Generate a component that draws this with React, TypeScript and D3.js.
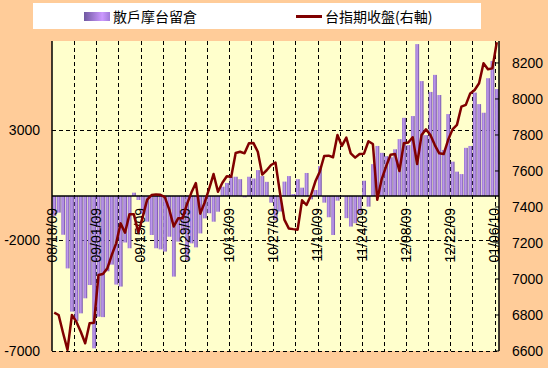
import React, { useRef, useEffect } from "react";
import * as d3 from "d3";

// trading days shown on the category axis
const dates = [
  "08/18/09", "08/19/09", "08/20/09", "08/21/09", "08/24/09", "08/25/09", "08/26/09", "08/27/09", "08/28/09", "08/31/09",
  "09/01/09", "09/02/09", "09/03/09", "09/04/09", "09/07/09", "09/08/09", "09/09/09", "09/10/09", "09/11/09", "09/14/09",
  "09/15/09", "09/16/09", "09/17/09", "09/18/09", "09/21/09", "09/22/09", "09/23/09", "09/24/09", "09/25/09", "09/28/09",
  "09/29/09", "09/30/09", "10/01/09", "10/02/09", "10/05/09", "10/06/09", "10/07/09", "10/08/09", "10/09/09", "10/12/09",
  "10/13/09", "10/14/09", "10/15/09", "10/16/09", "10/19/09", "10/20/09", "10/21/09", "10/22/09", "10/23/09", "10/26/09",
  "10/27/09", "10/28/09", "10/29/09", "10/30/09", "11/02/09", "11/03/09", "11/04/09", "11/05/09", "11/06/09", "11/09/09",
  "11/10/09", "11/11/09", "11/12/09", "11/13/09", "11/16/09", "11/17/09", "11/18/09", "11/19/09", "11/20/09", "11/23/09",
  "11/24/09", "11/25/09", "11/26/09", "11/27/09", "11/30/09", "12/01/09", "12/02/09", "12/03/09", "12/04/09", "12/07/09",
  "12/08/09", "12/09/09", "12/10/09", "12/11/09", "12/14/09", "12/15/09", "12/16/09", "12/17/09", "12/18/09", "12/21/09",
  "12/22/09", "12/23/09", "12/24/09", "12/25/09", "12/28/09", "12/29/09", "12/30/09", "12/31/09", "01/04/10", "01/05/10",
  "01/06/10",
];

// 散戶摩台留倉 (left axis)
const retailOI = [
  -900, -750, -1750, -3270, -5220, -5650, -5300, -4620, -4020, -6880,
  -5450, -5470, -3400, -3100, -4000, -4090, -2100, -2360, 150, -180,
  -800, -1160, -1760, -2360, -2410, -2510, -1840, -3640, -2060, -1690,
  -2890, -2140, -2320, -1690, -1010, -780, -1160, -710, 420, 590,
  870, 870, 760, -60, 870, 790, 1170, 900, 640, -300,
  -1100, -700, 650, 900, 90, 760, 376, 1040, -150, 270,
  1350, -300, -960, -1760, -210, -30, -1000, -1380, -1230, -780,
  690, -480, 1440, 2260, 1950, 1800, 1750, 2110, 2570, 3530,
  2300, 3610, 6860, 5190, 2750, 4700, 5470, 4560, 2080, 3700,
  1550, 1100, 990, 2175, 2260, 4670, 4150, 3760, 5320, 6100,
  4830,
];

// 台指期收盤 (right axis)
const futuresClose = [
  6813, 6800, 6700, 6606, 6800, 6763, 6707, 6643, 6754, 6757,
  7022, 7028, 7059, 7133, 7198, 7309, 7257, 7359, 7359, 7258,
  7345, 7441, 7466, 7470, 7468, 7455, 7385, 7292, 7337, 7337,
  7416, 7480, 7533, 7363, 7425, 7500, 7583, 7485, 7535, 7571,
  7568, 7700, 7707, 7698, 7754, 7756, 7707, 7580, 7604, 7633,
  7647, 7480, 7330, 7281, 7277, 7274, 7437, 7411, 7464, 7541,
  7596, 7683, 7685, 7676, 7800, 7739, 7785, 7698, 7674, 7694,
  7696, 7765, 7750, 7440, 7555, 7626, 7690, 7694, 7600, 7754,
  7758, 7787, 7639, 7800, 7831, 7800, 7744, 7698, 7694, 7772,
  7831, 7856, 7957, 7967, 8031, 8050, 8087, 8198, 8165, 8170,
  8315,
];

const leftTicks = [-7000, -2000, 3000];
const rightTicks = [6600, 6800, 7000, 7200, 7400, 7600, 7800, 8000, 8200];
const dateTicks = ["08/18/09", "09/01/09", "09/15/09", "09/29/09", "10/13/09", "10/27/09",
  "11/10/09", "11/24/09", "12/08/09", "12/22/09", "01/06/10"];

const App = () => {
  const svgRef = useRef<SVGSVGElement>(null);

  useEffect(() => {
    const svg = d3.select(svgRef.current);
    svg.selectAll("*").remove();
    const width = 548;
    const height = 368;
    const plot = { left: 52, right: 499, top: 41, bottom: 351 };
    const numFont = "'Liberation Sans', Arial, sans-serif";
    const cjkFont = "'Noto Sans CJK TC', 'Noto Sans CJK SC', sans-serif";

    const x = d3.scaleBand().domain(dates).range([plot.left, plot.right]).padding(0);
    const bw = x.bandwidth();
    const yL = d3.scaleLinear().domain([-7000, 7000]).range([plot.bottom, plot.top]);
    const yR = d3.scaleLinear().domain([6600, 8322]).range([plot.bottom, plot.top]);

    const defs = svg.append("defs");
    const barGrad = defs.append("linearGradient").attr("id", "barGrad");
    barGrad.append("stop").attr("offset", "0%").attr("stop-color", "#9370cf");
    barGrad.append("stop").attr("offset", "50%").attr("stop-color", "#c29cee");
    barGrad.append("stop").attr("offset", "100%").attr("stop-color", "#6c4ca2");
    const legGrad = defs.append("linearGradient").attr("id", "legGrad");
    legGrad.append("stop").attr("offset", "0%").attr("stop-color", "#6f58a0");
    legGrad.append("stop").attr("offset", "70%").attr("stop-color", "#cc99ff");
    legGrad.append("stop").attr("offset", "100%").attr("stop-color", "#a07ad8");

    // backgrounds
    svg.append("rect").attr("width", width).attr("height", height).attr("fill", "#ffcc99");
    svg.append("rect")
      .attr("x", plot.left).attr("y", plot.top)
      .attr("width", plot.right - plot.left).attr("height", plot.bottom - plot.top)
      .attr("fill", "#ffffcc");

    // gridlines
    const grid = svg.append("g").attr("stroke", "#000").attr("stroke-width", 1).attr("stroke-dasharray", "4,3");
    grid.selectAll(".hg")
      .data(leftTicks)
      .join("line")
      .attr("x1", plot.left).attr("x2", plot.right)
      .attr("y1", (d) => Math.round(yL(d)) + 0.5).attr("y2", (d) => Math.round(yL(d)) + 0.5);
    grid.selectAll(".vg")
      .data(dates.filter((d, i) => i > 0 && i % 5 === 0))
      .join("line")
      .attr("x1", (d) => Math.round(x(d)!) + 0.5).attr("x2", (d) => Math.round(x(d)!) + 0.5)
      .attr("y1", plot.top).attr("y2", plot.bottom);

    // bars
    svg.append("g")
      .selectAll("rect")
      .data(retailOI)
      .join("rect")
      .attr("x", (d, i) => x(dates[i])! + bw * 0.1)
      .attr("width", bw * 0.85)
      .attr("y", (d) => yL(Math.max(0, d)))
      .attr("height", (d) => Math.abs(yL(d) - yL(0)))
      .attr("fill", "url(#barGrad)");

    // category axis at zero
    svg.append("line")
      .attr("x1", plot.left).attr("x2", plot.right)
      .attr("y1", yL(0)).attr("y2", yL(0))
      .attr("stroke", "#000").attr("stroke-width", 1.5);

    // date labels
    svg.append("g")
      .selectAll("text")
      .data(dateTicks)
      .join("text")
      .attr("transform", (d) => `translate(${x(d)},${yL(0) + 12}) rotate(-90)`)
      .attr("text-anchor", "end")
      .attr("dy", "0.35em")
      .attr("font-family", numFont)
      .attr("font-size", 14)
      .attr("fill", "#000")
      .text((d) => d);

    // futures line
    const line = d3.line<number>()
      .x((d, i) => x(dates[i])! + bw / 2)
      .y((d) => yR(d));
    svg.append("path")
      .datum(futuresClose)
      .attr("d", line)
      .attr("fill", "none")
      .attr("stroke", "#800000")
      .attr("stroke-width", 2.5)
      .attr("stroke-linejoin", "round");

    // left axis
    svg.append("line")
      .attr("x1", plot.left).attr("x2", plot.left)
      .attr("y1", plot.top).attr("y2", plot.bottom)
      .attr("stroke", "#000").attr("stroke-width", 1.5);
    svg.append("g")
      .selectAll("text")
      .data(leftTicks)
      .join("text")
      .attr("x", 40)
      .attr("y", (d) => yL(d))
      .attr("dy", "0.36em")
      .attr("text-anchor", "end")
      .attr("font-family", numFont)
      .attr("font-size", 14)
      .text((d) => d);

    // right axis
    svg.append("line")
      .attr("x1", plot.right).attr("x2", plot.right)
      .attr("y1", plot.top).attr("y2", plot.bottom)
      .attr("stroke", "#000").attr("stroke-width", 1.5);
    svg.append("g")
      .selectAll("line")
      .data(rightTicks)
      .join("line")
      .attr("x1", plot.right - 4).attr("x2", plot.right)
      .attr("y1", (d) => yR(d)).attr("y2", (d) => yR(d))
      .attr("stroke", "#000");
    svg.append("g")
      .selectAll("text")
      .data(rightTicks)
      .join("text")
      .attr("x", 512)
      .attr("y", (d) => yR(d))
      .attr("dy", "0.36em")
      .attr("font-family", numFont)
      .attr("font-size", 14)
      .text((d) => d);

    // legend
    const legend = svg.append("g");
    legend.append("rect").attr("x", 33).attr("y", 3).attr("width", 448).attr("height", 26).attr("fill", "#fff");
    legend.append("rect").attr("x", 84).attr("y", 12).attr("width", 26).attr("height", 9).attr("fill", "url(#legGrad)");
    legend.append("text").attr("x", 113).attr("y", 22)
      .attr("font-family", cjkFont).attr("font-size", 14).text("散戶摩台留倉");
    legend.append("line").attr("x1", 296).attr("x2", 322).attr("y1", 16.5).attr("y2", 16.5)
      .attr("stroke", "#800000").attr("stroke-width", 3);
    legend.append("text").attr("x", 325).attr("y", 22)
      .attr("font-family", cjkFont).attr("font-size", 14).text("台指期收盤(右軸)");
  }, []);

  return <svg ref={svgRef} width={548} height={368} style={{ position: "absolute", left: 0, top: 0 }} />;
};

export default App;
